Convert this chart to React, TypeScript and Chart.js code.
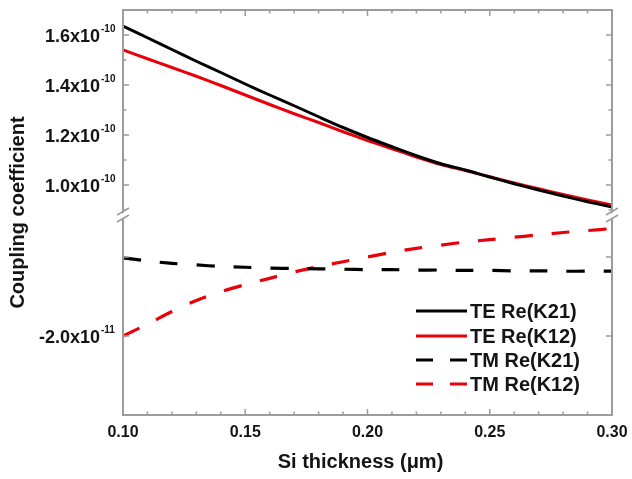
import React, { useEffect, useRef } from 'react';
import { Chart, registerables } from 'chart.js';

Chart.register(...registerables);

// ---- data ----
const thickness = [0.10, 0.11, 0.12, 0.13, 0.14, 0.15, 0.16, 0.17, 0.18, 0.19, 0.20, 0.21, 0.22, 0.23, 0.24, 0.25, 0.26, 0.27, 0.28, 0.29, 0.30];
const teReK21 = [1.636e-10, 1.589e-10, 1.542e-10, 1.495e-10, 1.450e-10, 1.404e-10, 1.360e-10, 1.317e-10, 1.273e-10, 1.230e-10, 1.190e-10, 1.153e-10, 1.117e-10, 1.085e-10, 1.060e-10, 1.032e-10, 1.005e-10, 0.980e-10, 0.956e-10, 0.933e-10, 0.912e-10];
const teReK12 = [1.540e-10, 1.505e-10, 1.470e-10, 1.435e-10, 1.398e-10, 1.360e-10, 1.322e-10, 1.285e-10, 1.250e-10, 1.213e-10, 1.178e-10, 1.145e-10, 1.112e-10, 1.082e-10, 1.058e-10, 1.033e-10, 1.008e-10, 0.985e-10, 0.962e-10, 0.940e-10, 0.920e-10];
const tmReK21 = [-1.01e-11, -1.05e-11, -1.08e-11, -1.10e-11, -1.12e-11, -1.13e-11, -1.14e-11, -1.145e-11, -1.15e-11, -1.155e-11, -1.16e-11, -1.16e-11, -1.165e-11, -1.165e-11, -1.17e-11, -1.17e-11, -1.175e-11, -1.175e-11, -1.18e-11, -1.18e-11, -1.18e-11];
const tmReK12 = [-2.00e-11, -1.85e-11, -1.69e-11, -1.55e-11, -1.44e-11, -1.35e-11, -1.27e-11, -1.19e-11, -1.12e-11, -1.06e-11, -1.00e-11, -0.94e-11, -0.89e-11, -0.85e-11, -0.81e-11, -0.78e-11, -0.75e-11, -0.72e-11, -0.69e-11, -0.665e-11, -0.64e-11];

const seriesNames = ['TE Re(K21)', 'TE Re(K12)', 'TM Re(K21)', 'TM Re(K12)'];
const seriesColors = ['#000000', '#e8000b', '#000000', '#e8000b'];

const xTickValues = [0.10, 0.15, 0.20, 0.25, 0.30];
const xTickLabels = ['0.10', '0.15', '0.20', '0.25', '0.30'];
const upperTickValues = [1.0e-10, 1.2e-10, 1.4e-10, 1.6e-10];
const upperTickMantissa = ['1.0x10', '1.2x10', '1.4x10', '1.6x10'];
const upperTickExponent = '-10';
const lowerTickValues = [-2.0e-11];
const lowerTickMantissa = ['-2.0x10'];
const lowerTickExponent = '-11';
const lowerMajorTicks = [-1.0e-11, -2.0e-11];

const xTitle = 'Si thickness (\u03bcm)';
const yTitle = 'Coupling coefficient';

const FONT = '"Liberation Sans", Arial, sans-serif';
const FRAME = '#9c9c9c';
const TEXT = '#141414';

const decorPlugin = {
  id: 'decor',
  afterDatasetsDraw(chart: any) {
    const ctx = chart.ctx as CanvasRenderingContext2D;
    const { left, right, top, bottom } = chart.chartArea;
    const xs = chart.scales.x;
    const yT = chart.scales.yTop;
    const yB = chart.scales.yBot;
    const breakY = (yT.bottom + yB.top) / 2;

    ctx.save();
    // frame
    ctx.strokeStyle = FRAME;
    ctx.lineWidth = 2;
    ctx.beginPath();
    ctx.moveTo(left, top);
    ctx.lineTo(right, top);
    ctx.lineTo(right, bottom);
    ctx.lineTo(left, bottom);
    ctx.closePath();
    ctx.stroke();

    // x ticks (inward)
    ctx.lineWidth = 1.5;
    for (let i = 0; i <= 20; i++) {
      const v = 0.10 + i * 0.01;
      const px = xs.getPixelForValue(v);
      const major = i % 5 === 0;
      const len = major ? 6 : 3.5;
      ctx.beginPath();
      ctx.moveTo(px, bottom);
      ctx.lineTo(px, bottom - len);
      ctx.moveTo(px, top);
      ctx.lineTo(px, top + len);
      ctx.stroke();
    }
    // upper y ticks
    for (let i = 9; i <= 17; i++) {
      const v = i * 0.1e-10;
      const py = yT.getPixelForValue(v);
      if (py < top + 2 || py > yT.bottom - 2) continue;
      const major = i % 2 === 0;
      const len = major ? 6 : 3.5;
      ctx.beginPath();
      ctx.moveTo(left, py);
      ctx.lineTo(left + len, py);
      ctx.moveTo(right, py);
      ctx.lineTo(right - len, py);
      ctx.stroke();
    }
    // lower y ticks
    for (const v of lowerMajorTicks) {
      const py = yB.getPixelForValue(v);
      ctx.beginPath();
      ctx.moveTo(left, py);
      ctx.lineTo(left + 6, py);
      ctx.moveTo(right, py);
      ctx.lineTo(right - 6, py);
      ctx.stroke();
    }

    // axis breaks
    for (const ax of [left, right]) {
      ctx.fillStyle = '#ffffff';
      ctx.beginPath();
      ctx.moveTo(ax - 6, breakY + 3);
      ctx.lineTo(ax + 6, breakY - 3);
      ctx.lineTo(ax + 6, breakY + 3);
      ctx.lineTo(ax - 6, breakY + 9);
      ctx.closePath();
      ctx.fill();
      ctx.strokeStyle = FRAME;
      ctx.lineWidth = 1.6;
      ctx.beginPath();
      ctx.moveTo(ax - 6, breakY + 2);
      ctx.lineTo(ax + 6, breakY - 5);
      ctx.moveTo(ax - 6, breakY + 9);
      ctx.lineTo(ax + 6, breakY + 2);
      ctx.stroke();
    }

    // x tick labels
    ctx.fillStyle = TEXT;
    ctx.font = `bold 16px ${FONT}`;
    ctx.textAlign = 'center';
    ctx.textBaseline = 'middle';
    xTickValues.forEach((v, i) => {
      ctx.fillText(xTickLabels[i], xs.getPixelForValue(v), bottom + 18);
    });

    // y tick labels with superscript exponent
    const drawYLabel = (py: number, mant: string, exp: string) => {
      ctx.font = `bold 18px ${FONT}`;
      ctx.textAlign = 'right';
      ctx.textBaseline = 'middle';
      ctx.fillText(mant, 100, py + 2);
      ctx.font = `bold 10px ${FONT}`;
      ctx.textAlign = 'left';
      ctx.fillText(exp, 101, py - 6);
    };
    upperTickValues.forEach((v, i) => drawYLabel(yT.getPixelForValue(v), upperTickMantissa[i], upperTickExponent));
    lowerTickValues.forEach((v, i) => drawYLabel(yB.getPixelForValue(v), lowerTickMantissa[i], lowerTickExponent));

    // axis titles
    ctx.font = `bold 20px ${FONT}`;
    ctx.textAlign = 'center';
    ctx.textBaseline = 'middle';
    ctx.fillText(xTitle, (left + right) / 2 - 7, bottom + 47);
    ctx.save();
    ctx.translate(18, (top + bottom) / 2);
    ctx.rotate(-Math.PI / 2);
    ctx.fillText(yTitle, 0, 0);
    ctx.restore();

    // legend
    const legendY = [311, 336, 360, 384];
    chart.data.datasets.forEach((ds: any, i: number) => {
      const y = legendY[i];
      ctx.strokeStyle = ds.borderColor;
      ctx.lineWidth = 3;
      ctx.setLineDash(ds.borderDash && ds.borderDash.length ? [17, 17] : []);
      ctx.beginPath();
      ctx.moveTo(416, y);
      ctx.lineTo(467, y);
      ctx.stroke();
      ctx.setLineDash([]);
      ctx.fillStyle = TEXT;
      ctx.font = `bold 20px ${FONT}`;
      ctx.textAlign = 'left';
      ctx.textBaseline = 'middle';
      ctx.fillText(ds.label, 470, y + 1);
    });
    ctx.restore();
  },
};

export default function App() {
  const ref = useRef<HTMLCanvasElement | null>(null);
  useEffect(() => {
    if (!ref.current) return;
    const mk = (vals: number[]) => thickness.map((x, i) => ({ x, y: vals[i] }));
    const chart = new Chart(ref.current, {
      type: 'line',
      data: {
        datasets: [
          { label: seriesNames[0], data: mk(teReK21), yAxisID: 'yTop', borderColor: seriesColors[0], borderWidth: 3, pointRadius: 0, tension: 0.3, borderDash: [] },
          { label: seriesNames[1], data: mk(teReK12), yAxisID: 'yTop', borderColor: seriesColors[1], borderWidth: 3, pointRadius: 0, tension: 0.3, borderDash: [] },
          { label: seriesNames[2], data: mk(tmReK21), yAxisID: 'yBot', borderColor: seriesColors[2], borderWidth: 3.2, pointRadius: 0, tension: 0.3, borderDash: [18, 19] },
          { label: seriesNames[3], data: mk(tmReK12), yAxisID: 'yBot', borderColor: seriesColors[3], borderWidth: 3.2, pointRadius: 0, tension: 0.3, borderDash: [18, 19] },
        ],
      },
      options: {
        animation: false,
        responsive: false,
        layout: { padding: { top: 10, right: 20, left: 0, bottom: 0 } },
        plugins: { legend: { display: false }, tooltip: { enabled: false } },
        scales: {
          x: {
            type: 'linear',
            min: 0.10,
            max: 0.30,
            ticks: { display: false },
            grid: { display: false, drawTicks: false },
            border: { display: false },
            afterFit: (s: any) => { s.height = 64; },
          },
          yBot: {
            type: 'linear',
            position: 'left',
            stack: 'y',
            stackWeight: 202,
            min: -3.0e-11,
            max: -0.443e-11,
            ticks: { display: false },
            grid: { display: false, drawTicks: false },
            border: { display: false },
            afterFit: (s: any) => { s.width = 123; },
          },
          yTop: {
            type: 'linear',
            position: 'left',
            stack: 'y',
            stackWeight: 203,
            min: 0.888e-10,
            max: 1.70e-10,
            ticks: { display: false },
            grid: { display: false, drawTicks: false },
            border: { display: false },
            afterFit: (s: any) => { s.width = 123; },
          },
        },
      } as any,
      plugins: [decorPlugin],
    });
    return () => chart.destroy();
  }, []);
  return (
    <div style={{ position: 'absolute', left: 0, top: 0, width: 632, height: 479, background: '#fff' }}>
      <canvas ref={ref} width={632} height={479} style={{ display: 'block' }} />
    </div>
  );
}
